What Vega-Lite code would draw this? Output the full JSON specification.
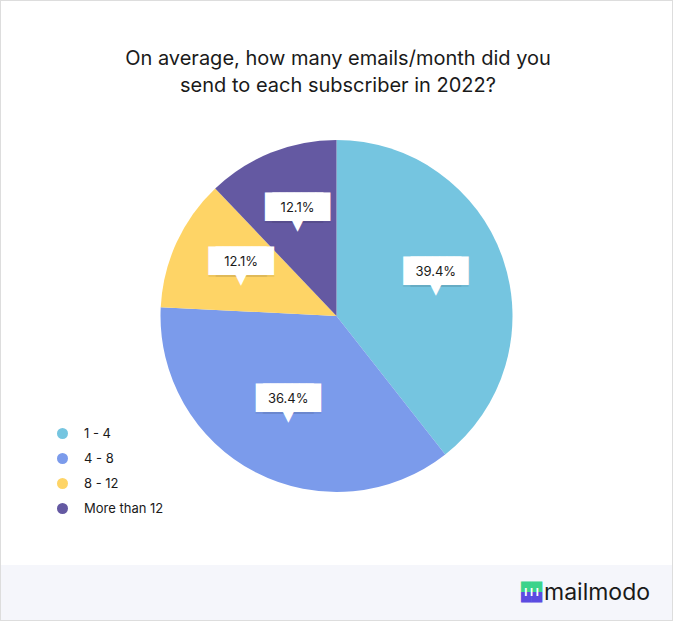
{
  "$schema": "https://vega.github.io/schema/vega-lite/v6.json",
  "background": "#dddddd",
  "padding": 1,
  "spacing": 0,
  "bounds": "flush",
  "config": {"view": {"stroke": null}, "font": "Inter"},
  "vconcat": [
    {
      "width": 671,
      "height": 66,
      "view": {"fill": "#ffffff", "stroke": null},
      "data": {"values": [{}]},
      "mark": {"type": "text", "text": " ", "fontSize": 1}
    },
    {
      "width": 671,
      "height": 498,
      "view": {"fill": "#ffffff", "stroke": null},
      "title": {
        "text": ["On average, how many emails/month did you", "send to each subscriber in 2022?"],
        "font": "Inter",
        "fontSize": 20,
        "fontWeight": "normal",
        "color": "#1a1a1a",
        "lineHeight": 27,
        "baseline": "alphabetic",
        "anchor": "middle",
        "offset": 0,
        "dy": 45,
        "dx": 1.5
      },
      "data": {
        "values": [
          {"cat": "1 - 4", "pct": 0.394},
          {"cat": "4 - 8", "pct": 0.364},
          {"cat": "8 - 12", "pct": 0.121},
          {"cat": "More than 12", "pct": 0.121}
        ]
      },
      "encoding": {
        "theta": {"field": "pct", "type": "quantitative", "stack": true},
        "color": {
          "field": "cat",
          "type": "nominal",
          "scale": {
            "domain": ["1 - 4", "4 - 8", "8 - 12", "More than 12"],
            "range": ["#75C5E0", "#7B9BEB", "#FED466", "#6459A2"]
          },
          "legend": {
            "orient": "none",
            "legendX": 55,
            "legendY": 426,
            "title": null,
            "symbolType": "circle",
            "symbolSize": 121,
            "symbolStrokeWidth": 0,
            "labelFont": "Inter",
            "labelFontSize": 13,
            "labelColor": "#1a1a1a",
            "labelOffset": 15,
            "rowPadding": 11,
            "padding": 0
          }
        }
      },
      "layer": [
        {"mark": {"type": "arc", "outerRadius": 176}},
        {
          "mark": {"type": "text", "radius": 105, "text": "████", "font": "DejaVu Sans Mono", "fontSize": 24, "baseline": "middle", "dy": -8, "dx": -3.6, "opacity": 0.06},
          "encoding": {"fill": {"value": "#000000"}}
        },
        {
          "mark": {"type": "text", "radius": 105, "text": "████", "font": "DejaVu Sans Mono", "fontSize": 24, "baseline": "middle", "dy": -8, "dx": 3.6, "opacity": 0.06},
          "encoding": {"fill": {"value": "#000000"}}
        },
        {
          "mark": {"type": "text", "radius": 105, "text": "▼", "font": "DejaVu Sans", "fontSize": 15, "baseline": "middle", "dy": 7},
          "encoding": {"fill": {"value": "#ffffff"}}
        },
        {
          "mark": {"type": "text", "radius": 105, "text": "████", "font": "DejaVu Sans Mono", "fontSize": 24, "baseline": "middle", "dy": -10, "dx": -3.6},
          "encoding": {"fill": {"value": "#ffffff"}}
        },
        {
          "mark": {"type": "text", "radius": 105, "text": "████", "font": "DejaVu Sans Mono", "fontSize": 24, "baseline": "middle", "dy": -10, "dx": 3.6},
          "encoding": {"fill": {"value": "#ffffff"}}
        },
        {
          "mark": {"type": "text", "radius": 105, "font": "Inter", "fontSize": 13, "baseline": "middle", "dy": -10, "text": {"expr": "format(datum.pct, '.1%')"}},
          "encoding": {"fill": {"value": "#1a1a1a"}}
        }
      ]
    },
    {
      "width": 671,
      "height": 55,
      "view": {"fill": "#F5F6FB", "stroke": null},
      "data": {"values": [{}]},
      "layer": [
        {"mark": {"type": "text", "text": "▀▀", "font": "DejaVu Sans Mono", "fontSize": 17.5, "baseline": "middle", "dx": 195, "color": "#3CD38B"}},
        {"mark": {"type": "text", "text": "▄▄", "font": "DejaVu Sans Mono", "fontSize": 17.5, "baseline": "middle", "dx": 195, "color": "#5B4BE1"}},
        {"mark": {"type": "text", "text": "I I I", "font": "Inter", "fontWeight": "bold", "fontSize": 11, "baseline": "middle", "dx": 195, "color": "#ffffff"}},
        {"mark": {"type": "text", "text": "mailmodo", "font": "Inter", "fontSize": 23, "baseline": "middle", "dx": 260.5, "color": "#1a1a1a"}}
      ]
    }
  ]
}
